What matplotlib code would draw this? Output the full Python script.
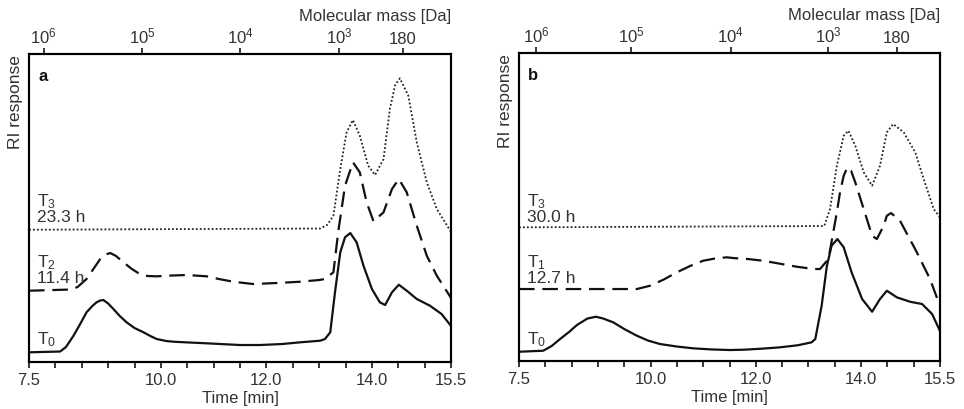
import matplotlib.pyplot as plt

plt.rcParams['font.family'] = ['Liberation Sans', 'DejaVu Sans']
plt.rcParams['mathtext.fontset'] = 'custom'
plt.rcParams['mathtext.rm'] = 'Liberation Sans'
plt.rcParams['mathtext.it'] = 'Liberation Sans'

TXT = '#333333'

# panel a: elution time [min] and RI response (arbitrary units)
a_t0_time = [7.5, 8.09, 8.2, 8.34, 8.47, 8.59, 8.7, 8.78, 8.85, 8.91, 9.0, 9.10, 9.22, 9.35,
             9.5, 9.67, 9.8, 9.92, 10.1, 10.24, 10.5, 10.87, 11.2, 11.5, 11.88, 12.3,
             12.64, 12.9, 13.02, 13.11, 13.21, 13.3, 13.4, 13.49, 13.59, 13.71, 13.84, 14.0,
             14.15, 14.25, 14.38, 14.51, 14.66, 14.85, 15.1, 15.32, 15.5]
a_t0_resp = [9.7, 10.5, 15, 26, 38, 49.7, 56, 59.7, 61.5, 62, 58.5, 53, 46, 39.7,
             34, 29.7, 26, 23, 21, 20.3, 19.6, 18.7, 17.8, 17, 17, 18,
             19.7, 20.8, 21.3, 23, 29.7, 69.7, 109.7, 124.7, 129, 119.7, 96.3, 73,
             59.7, 57, 69.7, 77.3, 71.3, 63, 56.3, 48, 36]

a_t2_time = [7.5, 8.3, 8.42, 8.59, 8.72, 8.85, 8.95, 9.04, 9.15, 9.29, 9.45, 9.6, 9.75,
             9.92, 10.2, 10.49, 10.87, 11.1, 11.37, 11.75, 12.2, 12.64, 13.0, 13.11,
             13.27, 13.36, 13.49, 13.64, 13.77, 13.9, 14.03, 14.22, 14.38, 14.51, 14.66,
             14.85, 15.04, 15.23, 15.5]
a_t2_resp = [71.3, 72.5, 75, 83, 93, 103, 107.5, 109, 106, 99.7, 93, 88, 86,
             85.7, 86.5, 87, 85.7, 83, 80.3, 78, 79, 80.3, 82, 83,
             89.7, 129.7, 176.3, 199.7, 189.7, 159.7, 140.7, 149.7, 173, 183, 169.7,
             136.3, 106.3, 86.3, 64]

a_t3_time = [7.5, 13.02, 13.15, 13.27, 13.4, 13.52, 13.64, 13.77, 13.93, 14.06, 14.22, 14.34,
             14.44, 14.53, 14.69, 14.85, 15.04, 15.23, 15.5]
a_t3_resp = [132.3, 133.5, 137, 146.3, 193, 229.7, 242, 226.3, 196.3, 187, 203, 253,
             277, 283.7, 266.3, 219.7, 179.7, 153, 130]

# panel b
b_t0_time = [7.5, 7.96, 8.12, 8.28, 8.45, 8.6, 8.8, 8.96, 9.1, 9.29, 9.5, 9.74, 9.95, 10.18,
             10.5, 10.81, 11.15, 11.51, 11.76, 12.1, 12.46, 12.8, 13.06, 13.13, 13.25,
             13.35, 13.44, 13.55, 13.67, 13.82, 14.02, 14.21, 14.36, 14.49, 14.68, 14.93,
             15.16, 15.35, 15.5]
b_t0_resp = [9.3, 10.3, 15, 22, 29, 36, 42.5, 44.3, 42.5, 38.7, 32, 25.3, 20.5, 17,
             14.5, 12.7, 11.6, 11, 11.3, 12.3, 13.7, 15.8, 18.7, 22, 55,
             95, 115.3, 122, 113.7, 88.7, 62, 49.3, 62, 70.3, 63.7, 59.3,
             57, 47, 30]

b_t1_time = [7.5, 9.74, 9.99, 10.25, 10.5, 10.75, 11.0, 11.25, 11.45, 11.57, 11.85, 12.14,
             12.78, 13.1, 13.22, 13.38, 13.54, 13.6, 13.67, 13.74, 13.81, 13.89, 14.11,
             14.21, 14.3, 14.43, 14.49, 14.57, 14.74, 15.06, 15.31, 15.5]
b_t1_resp = [72, 72, 75.3, 81.5, 88.7, 95, 100.3, 102.8, 103.7, 103, 102, 100.3,
             94.3, 92, 92, 102, 148.7, 168.7, 185.3, 193.7, 190.3, 178.7, 142,
             125.3, 122, 135.3, 145.3, 148, 140.3, 108.7, 82, 55]

b_t3_time = [7.5, 13.3, 13.41, 13.54, 13.67, 13.76, 13.89, 14.05, 14.21, 14.36, 14.49, 14.61,
             14.81, 15.03, 15.19, 15.38, 15.5]
b_t3_resp = [133.7, 135, 152, 195.3, 225.3, 230.3, 215.3, 188.7, 175.3, 195.3, 228.7, 237,
             228.7, 208.7, 182, 152, 143.7]

# time axis ticks
time_ticks = [7.5, 10.0, 12.0, 14.0, 15.5]
time_minor = [8.0, 8.5, 9.0, 9.5, 10.5, 11.0, 11.5, 12.5, 13.0, 13.5, 14.5, 15.0]

# molecular mass calibration (elution time of each label)
mass_labels = ['$10^6$', '$10^5$', '$10^4$', '$10^3$', '180']
a_mass_time = [7.78, 9.64, 11.5, 13.38, 14.59]
b_mass_time = [7.82, 9.63, 11.52, 13.37, 14.68]

fig = plt.figure(figsize=(9.64, 4.10), dpi=100)
ax_a = fig.add_axes([0.0301, 0.1146, 0.4378, 0.7512])
ax_b = fig.add_axes([0.5384, 0.1170, 0.4367, 0.7512])

panels = [
    (ax_a, 'a', a_mass_time,
     [(a_t0_time, a_t0_resp, '-'), (a_t2_time, a_t2_resp, 'dash'), (a_t3_time, a_t3_resp, 'dot')],
     [('T$_3$', 202), ('23.3 h', 218), ('T$_2$', 263), ('11.4 h', 279), ('T$_0$', 340)]),
    (ax_b, 'b', b_mass_time,
     [(b_t0_time, b_t0_resp, '-'), (b_t1_time, b_t1_resp, 'dash'), (b_t3_time, b_t3_resp, 'dot')],
     [('T$_3$', 202), ('30.0 h', 218), ('T$_1$', 263), ('12.7 h', 279), ('T$_0$', 340)]),
]

for ax, letter, mass_time, curves, labels in panels:
    for t, r, style in curves:
        if style == 'dash':
            ax.plot(t, r, color='#111111', lw=1.6, linestyle=(0, (7, 3.5)))
        elif style == 'dot':
            ax.plot(t, r, color='#222222', lw=1.3, linestyle=(0, (1, 1.2)))
        else:
            ax.plot(t, r, color='#111111', lw=1.6)

    ax.set_xlim(7.5, 15.5)
    ax.set_ylim(0, 308)
    ax.set_yticks([])
    ax.set_xticks(time_ticks)
    ax.set_xticklabels(['%.1f' % v for v in time_ticks])
    ax.set_xticks(time_minor, minor=True)
    ax.tick_params(axis='x', which='both', direction='out', length=4, width=1.1,
                   labelsize=12, labelcolor=TXT, pad=3)
    for sp in ax.spines.values():
        sp.set_linewidth(1.5)
    ax.set_xlabel('Time [min]', fontsize=12, color=TXT, labelpad=2)
    ax.set_ylabel('RI response', fontsize=12.5, color=TXT, loc='top', labelpad=4)

    ax.text(0.022, 0.93, letter, transform=ax.transAxes, fontsize=12,
            fontweight='bold', color='#111111', va='center')

    # labels placed in pixels measured from the top of the figure
    for s, ypix in labels:
        ax.annotate(s, xy=(0.018, 0), xycoords=('axes fraction', 'figure pixels'),
                    xytext=(0, 410 - ypix), textcoords='offset pixels',
                    fontsize=12.5, color=TXT, va='center', ha='left')

    top = ax.twiny()
    top.set_xlim(ax.get_xlim())
    top.set_xticks(mass_time)
    top.set_xticklabels(mass_labels)
    top.tick_params(axis='x', direction='out', length=4, width=1.1, labelsize=12,
                    labelcolor=TXT, pad=2)
    top.set_xlabel('Molecular mass [Da]', fontsize=12, color=TXT, loc='right', labelpad=4)
    for sp in top.spines.values():
        sp.set_linewidth(1.5)

fig.savefig('out.png', dpi=100)
